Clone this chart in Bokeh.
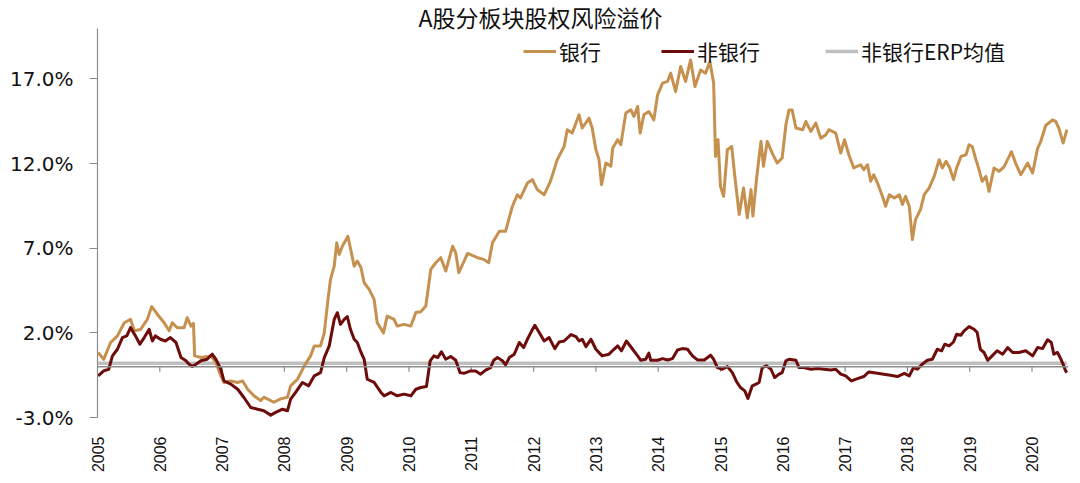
import math
from bokeh.plotting import figure
from bokeh.models import (Range1d, FixedTicker, PrintfTickFormatter, Legend,
                          LegendItem, Label, Span)
from bokeh.embed import file_html
from bokeh.resources import INLINE

# ---------------- data ----------------
title_text = "A股分板块股权风险溢价"
series_names = ["银行", "非银行", "非银行ERP均值"]

bank_t = [2005.01, 2005.10, 2005.21, 2005.32, 2005.43, 2005.53, 2005.59, 2005.69, 2005.80, 2005.87,
          2005.96, 2006.07, 2006.15, 2006.20, 2006.28, 2006.39, 2006.44, 2006.50, 2006.54, 2006.56,
          2006.66, 2006.82, 2006.90, 2006.98, 2007.03, 2007.14, 2007.25, 2007.33, 2007.41, 2007.51,
          2007.62, 2007.67, 2007.83, 2007.94, 2008.05, 2008.10, 2008.21, 2008.32, 2008.42, 2008.48,
          2008.58, 2008.64, 2008.70, 2008.74, 2008.80, 2008.84, 2008.88, 2008.93, 2009.02, 2009.12,
          2009.17, 2009.23, 2009.28, 2009.36, 2009.44, 2009.49, 2009.59, 2009.65, 2009.76, 2009.81,
          2009.92, 2010.03, 2010.11, 2010.19, 2010.27, 2010.35, 2010.43, 2010.51, 2010.59, 2010.70,
          2010.75, 2010.80, 2010.94, 2011.10, 2011.20, 2011.28, 2011.34, 2011.45, 2011.55, 2011.66,
          2011.74, 2011.79, 2011.90, 2011.98, 2012.06, 2012.17, 2012.27, 2012.38, 2012.49, 2012.54,
          2012.62, 2012.73, 2012.78, 2012.89, 2012.94, 2013.00, 2013.05, 2013.09, 2013.16, 2013.24,
          2013.27, 2013.35, 2013.40, 2013.48, 2013.56, 2013.61, 2013.67, 2013.71, 2013.77, 2013.85,
          2013.93, 2013.99, 2014.07, 2014.15, 2014.20, 2014.28, 2014.36, 2014.44, 2014.52, 2014.59,
          2014.68, 2014.76, 2014.83, 2014.89, 2014.92, 2014.96, 2015.00, 2015.05, 2015.11, 2015.18,
          2015.23, 2015.30, 2015.37, 2015.43, 2015.49, 2015.52, 2015.58, 2015.65, 2015.69, 2015.75,
          2015.83, 2015.91, 2015.99, 2016.05, 2016.10, 2016.15, 2016.21, 2016.32, 2016.37, 2016.45,
          2016.53, 2016.61, 2016.69, 2016.74, 2016.85, 2016.93, 2016.99, 2017.06, 2017.14, 2017.25,
          2017.30, 2017.36, 2017.41, 2017.46, 2017.52, 2017.60, 2017.65, 2017.71, 2017.79, 2017.87,
          2017.92, 2017.97, 2018.03, 2018.08, 2018.13, 2018.21, 2018.27, 2018.35, 2018.43, 2018.51,
          2018.56, 2018.62, 2018.68, 2018.74, 2018.79, 2018.86, 2018.94, 2018.99, 2019.04, 2019.10,
          2019.15, 2019.20, 2019.26, 2019.31, 2019.39, 2019.47, 2019.55, 2019.63, 2019.67, 2019.74,
          2019.82, 2019.93, 2020.01, 2020.09, 2020.14, 2020.22, 2020.33, 2020.38, 2020.43, 2020.50,
          2020.56]
bank_v = [0.84, 0.43, 1.43, 1.82, 2.6, 2.8, 2.12, 2.2, 2.8, 3.55,
          3.1, 2.6, 2.12, 2.6, 2.3, 2.3, 2.9, 2.4, 2.56, 0.64,
          0.54, 0.64, 0.25, -0.54, -0.93, -0.84, -0.93, -0.84, -1.33, -1.72,
          -2.0, -1.8, -2.1, -1.9, -1.8, -1.13, -0.74, 0.05, 0.64, 1.23,
          1.23, 2.0, 3.98, 5.16, 5.94, 7.32, 6.63, 7.12, 7.71, 5.94,
          6.24, 5.84, 4.96, 4.57, 3.98, 2.6, 2.0, 2.99, 2.8, 2.4,
          2.5, 2.4, 3.2, 3.25, 3.59, 5.75, 6.14, 6.44, 5.65, 7.12,
          6.73, 5.55, 6.69, 6.44, 6.34, 6.14, 7.32, 8.0, 8.0, 9.48,
          10.16, 9.97, 10.85, 11.05, 10.46, 10.16, 10.95, 12.23, 13.01, 14.0,
          13.8, 14.88, 14.1, 14.68, 14.1, 12.82, 12.23, 10.75, 12.03, 11.84,
          12.92, 13.41, 13.11, 14.98, 15.18, 14.78, 15.37, 13.8, 14.88, 15.07,
          14.58, 16.06, 16.75, 16.85, 17.34, 16.25, 17.73, 16.85, 18.12, 16.55,
          17.53, 17.34, 18.02, 16.75, 12.42, 13.41, 10.65, 10.06, 12.82, 13.01,
          11.24, 8.99, 10.56, 8.8, 10.46, 8.9, 11.15, 13.31, 11.84, 13.31,
          12.62, 12.03, 12.33, 14.29, 15.17, 15.17, 14.1, 14.0, 14.49, 13.9,
          14.39, 13.5, 13.7, 14.0, 13.8, 12.62, 13.41, 12.52, 11.74, 11.93,
          11.64, 11.93, 10.95, 11.34, 10.85, 10.06, 9.48, 10.16, 9.97, 10.16,
          9.58, 10.06, 9.48, 7.51, 8.69, 9.28, 10.16, 10.56, 11.24, 12.23,
          11.74, 12.13, 11.74, 11.05, 11.74, 12.42, 12.52, 13.11, 13.01, 12.23,
          11.64, 10.95, 11.24, 10.36, 11.74, 11.54, 11.8, 12.4, 12.7, 12.0,
          11.34, 12.03, 11.44, 12.9, 13.3, 14.25, 14.58, 14.49, 14.1, 13.21,
          14.0]

nonbank_t = [2005.01, 2005.10, 2005.18, 2005.24, 2005.32, 2005.40, 2005.47, 2005.53, 2005.61, 2005.68,
             2005.75, 2005.83, 2005.88, 2005.93, 2006.01, 2006.09, 2006.17, 2006.26, 2006.34, 2006.42,
             2006.47, 2006.52, 2006.58, 2006.66, 2006.76, 2006.84, 2006.90, 2006.98, 2007.03, 2007.14,
             2007.25, 2007.35, 2007.46, 2007.57, 2007.67, 2007.78, 2007.86, 2007.97, 2008.05, 2008.10,
             2008.18, 2008.29, 2008.39, 2008.48, 2008.58, 2008.64, 2008.72, 2008.75, 2008.80, 2008.85,
             2008.90, 2008.96, 2009.01, 2009.06, 2009.12, 2009.17, 2009.23, 2009.28, 2009.33, 2009.44,
             2009.55, 2009.60, 2009.71, 2009.81, 2009.92, 2010.03, 2010.11, 2010.19, 2010.28, 2010.34,
             2010.40, 2010.46, 2010.52, 2010.59, 2010.67, 2010.75, 2010.82, 2010.88, 2010.99, 2011.07,
             2011.15, 2011.23, 2011.31, 2011.36, 2011.42, 2011.50, 2011.55, 2011.61, 2011.69, 2011.77,
             2011.84, 2011.90, 2011.97, 2012.02, 2012.09, 2012.17, 2012.25, 2012.34, 2012.41, 2012.49,
             2012.60, 2012.68, 2012.73, 2012.78, 2012.84, 2012.92, 2013.00, 2013.10, 2013.21, 2013.29,
             2013.35, 2013.41, 2013.49, 2013.59, 2013.67, 2013.72, 2013.80, 2013.85, 2013.88, 2013.99,
             2014.07, 2014.15, 2014.23, 2014.31, 2014.39, 2014.47, 2014.55, 2014.63, 2014.74, 2014.84,
             2014.89, 2014.95, 2015.03, 2015.11, 2015.19, 2015.26, 2015.32, 2015.39, 2015.44, 2015.51,
             2015.57, 2015.62, 2015.67, 2015.74, 2015.81, 2015.87, 2015.94, 2015.99, 2016.05, 2016.10,
             2016.21, 2016.26, 2016.34, 2016.45, 2016.56, 2016.66, 2016.77, 2016.85, 2016.93, 2017.01,
             2017.10, 2017.20, 2017.30, 2017.38, 2017.52, 2017.62, 2017.73, 2017.84, 2017.95, 2018.03,
             2018.10, 2018.16, 2018.24, 2018.32, 2018.40, 2018.48, 2018.55, 2018.60, 2018.67, 2018.74,
             2018.79, 2018.86, 2018.91, 2018.99, 2019.07, 2019.12, 2019.17, 2019.23, 2019.29, 2019.36,
             2019.44, 2019.53, 2019.61, 2019.69, 2019.79, 2019.90, 2020.01, 2020.09, 2020.17, 2020.25,
             2020.31, 2020.35, 2020.41, 2020.46, 2020.51, 2020.54, 2020.56]
nonbank_v = [-0.54, -0.25, -0.15, 0.64, 1.03, 1.72, 1.82, 2.31, 1.82, 1.33,
             1.72, 2.21, 1.52, 1.82, 1.62, 1.52, 1.72, 1.43, 0.54, 0.35,
             0.15, 0.01, 0.15, 0.35, 0.44, 0.74, 0.44, -0.15, -0.84, -1.03,
             -1.33, -1.82, -2.41, -2.51, -2.6, -2.86, -2.7, -2.51, -2.6, -1.92,
             -1.52, -0.93, -1.13, -0.54, -0.35, 0.54, 1.23, 1.82, 2.8, 3.19,
             2.5, 2.8, 2.96, 2.21, 1.62, 1.43, 0.84, 0.44, -0.74, -0.93,
             -1.52, -1.72, -1.52, -1.72, -1.62, -1.72, -1.33, -1.23, -1.17, 0.35,
             0.64, 0.54, 0.88, 0.44, 0.6, 0.38, -0.35, -0.39, -0.25, -0.25,
             -0.44, -0.2, -0.05, 0.38, 0.54, 0.35, 0.11, 0.54, 0.74, 1.43,
             1.13, 1.62, 2.12, 2.45, 2.02, 1.52, 1.72, 1.07, 1.46, 1.52,
             1.9, 1.78, 1.52, 1.62, 1.19, 1.62, 1.03, 0.64, 0.74, 1.03,
             1.23, 0.94, 1.52, 1.03, 0.64, 0.38, 0.44, 0.8, 0.38, 0.38,
             0.48, 0.4, 0.48, 0.99, 1.07, 1.03, 0.64, 0.4, 0.4, 0.68,
             0.44, -0.05, -0.15, 0.01, -0.35, -0.9, -1.23, -1.43, -1.88, -1.13,
             -1.03, -0.93, -0.05, 0.05, -0.15, -0.64, -0.44, -0.35, 0.35, 0.44,
             0.38, -0.05, -0.05, -0.15, -0.11, -0.15, -0.2, -0.15, -0.44, -0.54,
             -0.84, -0.7, -0.58, -0.31, -0.39, -0.44, -0.5, -0.58, -0.39, -0.54,
             -0.05, -0.15, 0.15, 0.38, 0.44, 1.03, 0.94, 1.33, 1.23, 1.46,
             1.92, 1.86, 2.12, 2.37, 2.21, 2.02, 1.03, 0.84, 0.38, 0.64,
             0.94, 0.74, 1.13, 0.84, 0.84, 0.94, 0.64, 1.13, 1.07, 1.59,
             1.43, 0.74, 0.84, 0.48, 0.05, -0.25, -0.35]

erp_mean = 0.2

year_ticks = list(range(2005, 2021))
y_ticks = [-3, 2, 7, 12, 17]
y_axis_top = 20

# ---------------- layout ----------------
W, H = 1072, 475
ML, MR, MT, MB = 97, 4, 0, 57
x_start = 2005.0
px_per_year = 62.3
frame_w = W - ML - MR
x_end = x_start + frame_w / px_per_year
frame_h = H - MT - MB
px_per_pct = 16.97
y_lo = -3.0
y_hi = y_lo + frame_h / px_per_pct

BANK_C = "#C6914F"
NONBANK_C = "#6E0B0B"
ERP_C = "#BFBFBF"
AXIS_C = "#8C8C8C"
CJK = "Noto Sans CJK SC"

p = figure(width=W, height=H, x_range=Range1d(x_start, x_end),
           y_range=Range1d(y_lo, y_hi), output_backend="svg",
           toolbar_location=None, min_border_left=ML, min_border_right=MR,
           min_border_top=MT, min_border_bottom=MB)
p.outline_line_color = None
p.xgrid.visible = False
p.ygrid.visible = False
p.background_fill_color = "white"
p.border_fill_color = "white"

# y axis
ya = p.yaxis[0]
ya.ticker = FixedTicker(ticks=y_ticks)
ya.bounds = (y_lo, y_axis_top)
ya.formatter = PrintfTickFormatter(format="%.1f%%")
ya.axis_line_color = AXIS_C
ya.axis_line_width = 1.2
ya.major_tick_line_color = AXIS_C
ya.major_tick_in = 0
ya.major_tick_out = 8
ya.minor_tick_line_color = None
ya.major_label_standoff = 16
ya.major_label_text_font = "DejaVu Sans"
ya.major_label_text_font_size = "20px"
ya.major_label_text_color = "#111111"

# x axis (labels at the bottom, line drawn at zero)
xa = p.xaxis[0]
xa.ticker = FixedTicker(ticks=year_ticks)
xa.axis_line_color = None
xa.major_tick_line_color = None
xa.minor_tick_line_color = None
xa.major_label_orientation = math.pi / 2
xa.major_label_standoff = 13
xa.major_label_text_font = "Liberation Sans"
xa.major_label_text_font_size = "16px"
xa.major_label_text_color = "#111111"

zero_line = Span(location=0, dimension="width", line_color=AXIS_C, line_width=1.5)
p.add_layout(zero_line)
tick_len = 5.0 / px_per_pct
p.segment(x0=year_ticks[1:], y0=[0] * (len(year_ticks) - 1),
          x1=year_ticks[1:], y1=[-tick_len] * (len(year_ticks) - 1),
          line_color=AXIS_C, line_width=1.2)

# series
r_erp = p.line(nonbank_t, [erp_mean] * len(nonbank_t), line_color=ERP_C, line_width=3.5)
r_bank = p.line(bank_t, bank_v, line_color=BANK_C, line_width=3, line_join="round")
r_nonbank = p.line(nonbank_t, nonbank_v, line_color=NONBANK_C, line_width=3, line_join="round")

# legends (one per item, placed like the reference)
leg_y = 351
for name, rend, x_page in zip(series_names, [r_bank, r_nonbank, r_erp], [523, 661, 825]):
    leg = Legend(items=[LegendItem(label=name, renderers=[rend])],
                 location=(x_page - ML, leg_y), orientation="horizontal",
                 border_line_color=None, background_fill_alpha=0,
                 padding=0, margin=0, spacing=0,
                 glyph_width=33, glyph_height=20, label_height=20,
                 label_standoff=3, label_text_font=CJK,
                 label_text_font_size="21px", label_text_color="#111111")
    p.add_layout(leg)

# title (inside the top of the frame, above the y-axis top)
title = Label(x=x_start + (540 - ML) / px_per_year,
              y=y_lo + (frame_h - 17) / px_per_pct,
              text=title_text, text_align="center", text_baseline="middle",
              text_font=CJK, text_font_size="23px", text_color="#111111")
p.add_layout(title)

open("out.html", "w").write(file_html(p, INLINE))
